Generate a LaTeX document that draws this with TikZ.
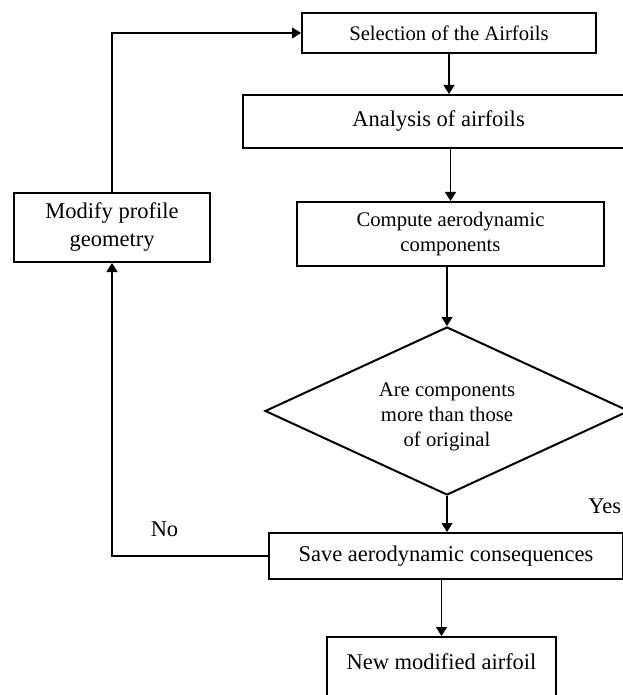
\documentclass[tikz,border=0pt]{standalone}
\usepackage{fontspec}
\setmainfont{Liberation Serif}
\usetikzlibrary{arrows.meta,shapes.geometric}

\begin{document}
\begin{tikzpicture}[
  x=0.5pt,y=-0.5pt,
  every node/.style={align=center,inner sep=0pt},
  smalltext/.style={font=\fontsize{10.35}{12.5}\selectfont},
  bigtext/.style={font=\fontsize{11.25}{14}\selectfont},
  procbox/.style={draw,line width=1pt,rectangle},
  decision/.style={draw,line width=1pt,diamond,aspect=2.17},
  arr/.style={-{Triangle[length=4.5pt,width=5.5pt]},line width=0.6pt}
]
\useasboundingbox (0,0) rectangle (622,695);

% main column
\node[procbox,smalltext,minimum width=147pt,minimum height=20pt] (sel) at (449,33)
  {Selection of the Airfoils};
\node[procbox,bigtext,minimum width=195.5pt,minimum height=26.5pt] (ana) at (438.5,121.5)
  {Analysis of airfoils};
\node[procbox,smalltext,minimum width=153.5pt,minimum height=32pt] (cmp) at (450.5,234)
  {Compute aerodynamic\\components};
\node[decision,smalltext,minimum width=182pt,minimum height=84pt] (check) at (447,411)
  {\raisebox{-5pt}[0pt][0pt]{\begin{tabular}{@{}c@{}}Are components\\more than those\\of original\end{tabular}}};
\node[procbox,bigtext,minimum width=177pt,minimum height=23pt] (save) at (446,556)
  {Save aerodynamic consequences};
\node[procbox,bigtext,minimum width=114.5pt,text height=16pt,text depth=24pt,anchor=north]
  (newfoil) at (441.5,636) {New modified airfoil};

% feedback branch
\node[procbox,bigtext,minimum width=98pt,minimum height=34.5pt] (modify) at (112,227.5)
  {Modify profile\\geometry};

\draw[arr] (sel.south) -- (sel.south |- ana.north);
\draw[arr] (cmp.north |- ana.south) -- (cmp.north);
\draw[arr] (cmp.south -| check.north) -- (check.north);
\draw[arr] (check.south) -- (check.south |- save.north);
\draw[arr] (newfoil.north |- save.south) -- (newfoil.north);
\draw[arr] (save.west) -| (modify.south);
\draw[arr] (modify.north) |- (sel.west);

\node[bigtext,anchor=base] (no) at (164.5,536) {No};
\node[bigtext,anchor=base west] (yes) at (588,513) {Yes};
\end{tikzpicture}
\end{document}
